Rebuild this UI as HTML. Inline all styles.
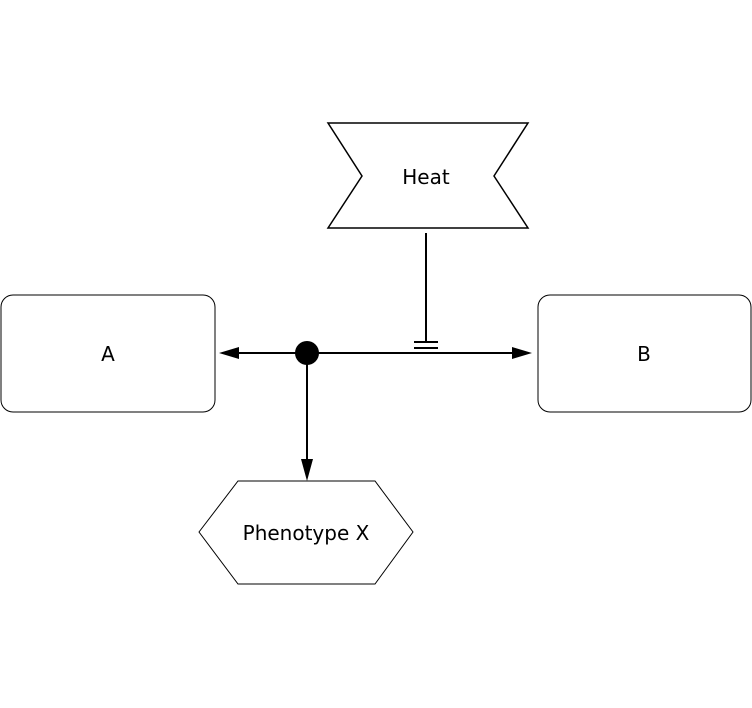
<!DOCTYPE html>
<html><head><style>body{margin:0;background:#fff}svg{display:block}</style></head><body>
<svg width="752" height="708" viewBox="0 0 752 708" xmlns="http://www.w3.org/2000/svg" font-family="'DejaVu Sans','Liberation Sans',sans-serif" font-size="20">
<rect x="1" y="295" width="214" height="117" rx="12" fill="#fff" stroke="#000" stroke-width="1"/>
<rect x="538" y="295" width="213" height="117" rx="12" fill="#fff" stroke="#000" stroke-width="1"/>
<polygon points="328,123 528,123 494,176 528,228 328,228 362,176" fill="#fff" stroke="#000" stroke-width="1.5"/>
<polygon points="199,532 238,481 375,481 413,532 375,584 238,584" fill="#fff" stroke="#000" stroke-width="1"/>
<line x1="236" y1="353" x2="516" y2="353" stroke="#000" stroke-width="2"/>
<polygon points="219,353 239,347 239,359"/>
<polygon points="532,353 512,347 512,359"/>
<line x1="426" y1="233" x2="426" y2="343" stroke="#000" stroke-width="2"/>
<line x1="414" y1="342" x2="438" y2="342" stroke="#000" stroke-width="2"/>
<line x1="414" y1="348" x2="438" y2="348" stroke="#000" stroke-width="2"/>
<line x1="307" y1="353" x2="307" y2="462" stroke="#000" stroke-width="2"/>
<polygon points="307,481 301,459 313,459"/>
<circle cx="307" cy="353" r="12"/>
<text x="108" y="361" text-anchor="middle">A</text>
<text x="644" y="361" text-anchor="middle">B</text>
<text x="426" y="184" text-anchor="middle">Heat</text>
<text x="306" y="540" text-anchor="middle">Phenotype X</text>
</svg>
</body></html>
